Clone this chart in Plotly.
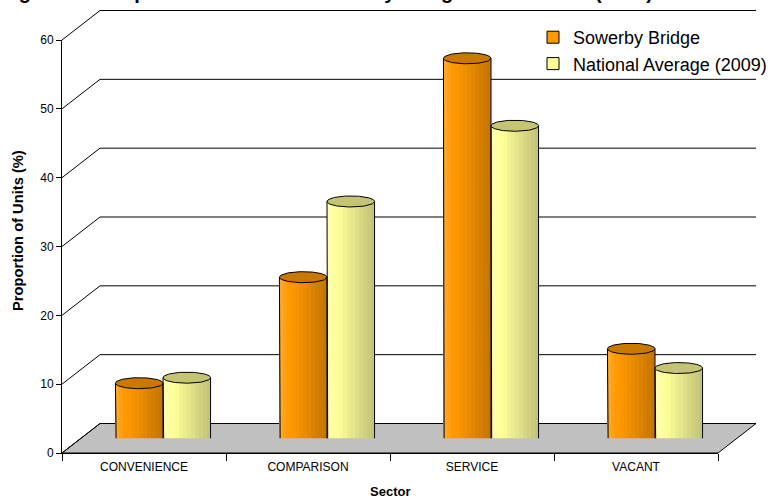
import numpy as np
import plotly.graph_objects as go

# ---- data -------------------------------------------------------------
categories = ["CONVENIENCE", "COMPARISON", "SERVICE", "VACANT"]
sowerby = [8.0, 23.4, 55.2, 13.0]
national = [8.8, 34.4, 45.4, 10.2]
series_names = ["Sowerby Bridge", "National Average (2009)"]
y_ticks = [0, 10, 20, 30, 40, 50, 60]

# ---- geometry of the pseudo-3D box (pixels) ---------------------------
W, H = 778, 503
FX0, FX1 = 62, 718          # front plane, left / right
FY0, FYTOP = 453, 40        # front plane, value 0 / value YMAX
YMAX = 60
DEPTH_DX, DEPTH_DY = 38, -29.5   # offset of the back wall
N = len(categories)
PX_PER_UNIT = (FY0 - FYTOP) / YMAX


def to_paper(c, v, depth):
    """category position c, value v, depth 0 (front) .. 1 (back) -> paper coords"""
    x = FX0 + (c + 0.5) / N * (FX1 - FX0) + depth * DEPTH_DX
    y = FY0 - v * PX_PER_UNIT + depth * DEPTH_DY
    return x / W, 1 - y / H


def domains(depth):
    x0, y0 = to_paper(-0.5, 0, depth)
    x1, y1 = to_paper(N - 0.5, YMAX, depth)
    return [x0, x1], [y0, y1]


# ---- cylinder styling -------------------------------------------------
BAR_W = 0.29
N_STRIPES = 12
ELL_B = 5.5 / PX_PER_UNIT      # half height of the elliptical caps, in value units
stripe_colors = [
    ["#FFA826", "#FF9F12", "#FF9900", "#FC9700", "#F69300", "#F08F00",
     "#E98B00", "#E28700", "#DA8200", "#D37E00", "#CC7A00", "#C67600"],
    ["#FFFFB0", "#FFFFA2", "#FFFF99", "#FAFA96", "#F3F393", "#ECEC8F",
     "#E5E58B", "#DEDE87", "#D7D783", "#D0D07F", "#CACA7B", "#C4C477"],
]
cap_colors = ["#C97800", "#C4C474"]
legend_colors = ["#FF9900", "#FFFF99"]
series_start = [-BAR_W, 0.0]

fig = go.Figure()

# invisible trace that carries the category axis
fig.add_trace(go.Scatter(x=categories, y=[0] * N, mode="markers",
                         marker=dict(opacity=0), hoverinfo="skip",
                         showlegend=False, xaxis="x", yaxis="y"))

xs = np.arange(N)
for s, vals in enumerate([sowerby, national]):
    start = series_start[s]
    sw = BAR_W / N_STRIPES
    # vertical stripes give the shaded cylinder body
    for i in range(N_STRIPES):
        u = (i + 0.5) / N_STRIPES * 2 - 1
        base = -ELL_B * np.sqrt(1 - u * u)
        fig.add_trace(go.Bar(
            x=xs, y=[v - base for v in vals], base=[base] * N,
            offset=start + i * sw, width=sw,
            marker=dict(color=stripe_colors[s][i], line=dict(width=0)),
            hoverinfo="skip", showlegend=False, xaxis="x2", yaxis="y2"))

    a = BAR_W / 2
    t_low = np.linspace(np.pi, 2 * np.pi, 40)
    t_all = np.linspace(0, 2 * np.pi, 80)
    ox, oy, ex, ey = [], [], [], []
    for k, v in enumerate(vals):
        cx = k + start + a
        # sides and rounded bottom
        ox += [cx - a, cx - a] + list(cx + a * np.cos(t_low)) + [cx + a, cx + a, None]
        oy += [v, 0] + list(ELL_B * np.sin(t_low)) + [0, v, None]
        # top cap
        ex += list(cx + a * np.cos(t_all)) + [None]
        ey += list(v + ELL_B * np.sin(t_all)) + [None]
    fig.add_trace(go.Scatter(x=ox, y=oy, mode="lines",
                             line=dict(color="black", width=1),
                             hoverinfo="skip", showlegend=False,
                             xaxis="x2", yaxis="y2"))
    fig.add_trace(go.Scatter(x=ex, y=ey, mode="lines", fill="toself",
                             fillcolor=cap_colors[s],
                             line=dict(color="black", width=1),
                             hoverinfo="skip", showlegend=False,
                             xaxis="x2", yaxis="y2"))

# legend entries
for s in range(2):
    fig.add_trace(go.Bar(x=[None], y=[None], name=series_names[s],
                         marker=dict(color=legend_colors[s],
                                     line=dict(color="black", width=1)),
                         xaxis="x2", yaxis="y2"))

# ---- walls, floor and depth lines -------------------------------------
shapes = []
fl = [to_paper(-0.5, 0, 0), to_paper(N - 0.5, 0, 0),
      to_paper(N - 0.5, 0, 1), to_paper(-0.5, 0, 1)]
shapes.append(dict(type="path", xref="paper", yref="paper", layer="below",
                   path="M " + " L ".join(f"{p[0]},{p[1]}" for p in fl) + " Z",
                   fillcolor="#C0C0C0", line=dict(color="black", width=1)))
for v in y_ticks:
    bx0, by = to_paper(-0.5, v, 1)
    bx1, _ = to_paper(N - 0.5, v, 1)
    fx, fy = to_paper(-0.5, v, 0)
    shapes.append(dict(type="line", xref="paper", yref="paper", layer="below",
                       x0=bx0, y0=by, x1=bx1, y1=by,
                       line=dict(color="black", width=1)))
    shapes.append(dict(type="line", xref="paper", yref="paper", layer="below",
                       x0=fx, y0=fy, x1=bx0, y1=by,
                       line=dict(color="black", width=1)))

FONT = "Liberation Sans, Arial, sans-serif"
fdx, fdy = domains(0)
mdx, mdy = domains(0.5)

fig.update_layout(
    width=W, height=H,
    margin=dict(l=0, r=0, t=0, b=0, autoexpand=False),
    paper_bgcolor="white", plot_bgcolor="rgba(0,0,0,0)",
    barmode="overlay", bargap=0,
    font=dict(family=FONT, color="black"),
    shapes=shapes,
    xaxis=dict(domain=fdx, anchor="y", type="category",
               categoryarray=categories, categoryorder="array",
               range=[-0.5, N - 0.5], tickson="boundaries",
               ticks="outside", ticklen=7, tickcolor="black",
               ticklabelstandoff=3,
               showline=True, linecolor="black", linewidth=1,
               showgrid=False, zeroline=False, fixedrange=True,
               tickfont=dict(size=12, color="black")),
    yaxis=dict(domain=fdy, anchor="x", range=[0, YMAX],
               tickmode="array", tickvals=y_ticks,
               ticks="outside", ticklen=5, tickcolor="black",
               showline=True, linecolor="black", linewidth=1,
               showgrid=False, zeroline=False, fixedrange=True,
               tickfont=dict(size=12, color="black")),
    xaxis2=dict(domain=mdx, anchor="y2", range=[-0.5, N - 0.5],
                visible=False, fixedrange=True),
    yaxis2=dict(domain=mdy, anchor="x2", range=[0, YMAX],
                visible=False, fixedrange=True),
    legend=dict(x=533 / W, y=1 - 19 / H, xanchor="left", yanchor="top",
                bgcolor="rgba(0,0,0,0)", traceorder="normal",
                font=dict(size=18, family=FONT, color="black")),
    annotations=[
        dict(text="<b>Proportion of Units (%)</b>", textangle=-90,
             xref="paper", yref="paper", x=18 / W, y=1 - 231 / H,
             xanchor="center", yanchor="middle",
             showarrow=False, font=dict(size=14.7, family=FONT)),
        dict(text="<b>Sector</b>", xref="paper", yref="paper",
             x=390 / W, y=1 - 491 / H, xanchor="center", yanchor="middle",
             showarrow=False, font=dict(size=13, family=FONT)),
        dict(text="<b>Figure 3.3 Proportion of Units in Sowerby Bridge Town Centre (2009)</b>",
             xref="paper", yref="paper", x=655 / W, y=1 - 5.5 / H,
             xanchor="right", yanchor="bottom", showarrow=False,
             font=dict(size=20, family=FONT)),
    ],
)

fig.write_html("out.html", config={"displayModeBar": False})
